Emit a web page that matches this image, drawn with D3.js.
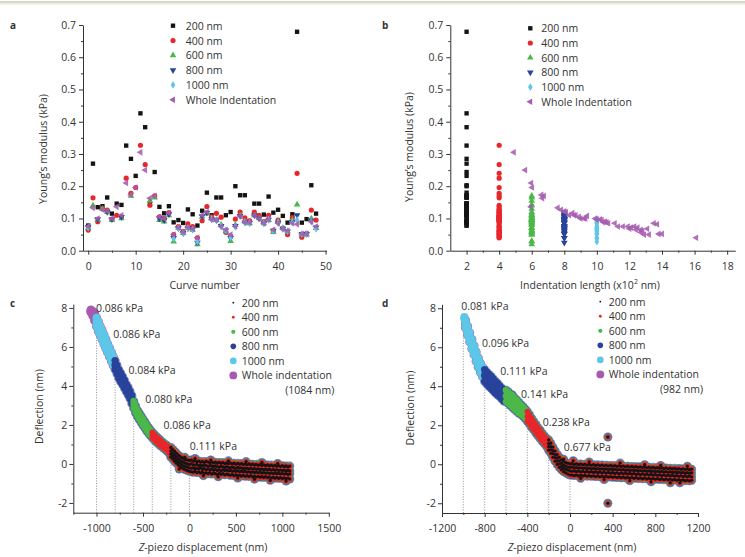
<!DOCTYPE html>
<html><head><meta charset="utf-8">
<script src="https://cdn.jsdelivr.net/npm/d3@7"></script>
<style>body{margin:0;background:#fff}svg{display:block;font-family:"Open Sans",sans-serif}</style>
</head><body><svg id="chart" width="745" height="557"></svg>
<script>
// ---------------- DATA ----------------
const curves = [0,1,2,3,4,5,6,7,8,9,10,11,12,13,14,15,16,17,18,19,20,21,22,23,24,25,26,27,28,29,30,31,32,33,34,35,36,37,38,39,40,41,42,43,44,45,46,47,48];
const seriesNames = ["200 nm","400 nm","600 nm","800 nm","1000 nm","Whole Indentation"];
const e200 = [0.078,0.270,0.135,0.138,0.165,0.115,0.146,0.142,0.326,0.285,0.232,0.426,0.383,0.147,0.244,0.136,0.116,0.138,0.088,0.095,0.086,0.128,0.113,0.078,0.124,0.180,0.110,0.165,0.165,0.110,0.120,0.200,0.172,0.172,0.092,0.146,0.146,0.112,0.168,0.118,0.127,0.108,0.087,0.113,0.679,0.087,0.098,0.203,0.115];
const e400 = [0.064,0.164,0.090,0.130,0.126,0.097,0.110,0.105,0.225,0.178,0.196,0.327,0.267,0.141,0.170,0.105,0.100,0.118,0.050,0.075,0.060,0.083,0.075,0.040,0.093,0.137,0.105,0.116,0.104,0.057,0.045,0.098,0.120,0.102,0.093,0.120,0.110,0.090,0.110,0.062,0.095,0.070,0.050,0.103,0.240,0.042,0.054,0.126,0.095];
const e600 = [0.07,0.14,0.095,0.13,0.12,0.095,null,0.10,null,0.17,null,null,null,0.155,0.165,0.095,0.09,0.11,0.028,0.07,0.055,0.07,0.065,0.02,0.105,0.115,0.1,0.095,0.08,0.06,0.03,0.08,0.11,0.09,0.085,0.11,0.1,0.085,0.095,0.058,0.09,0.07,0.06,0.095,0.143,0.05,0.05,0.1,0.07];
const e800 = [0.073,null,0.098,null,0.12,0.098,null,0.105,null,null,null,null,null,null,null,0.1,0.095,0.113,0.04,0.07,0.055,0.07,0.066,0.025,0.107,0.118,0.098,0.095,0.077,0.063,0.04,0.077,0.108,0.088,0.086,0.11,0.1,0.085,0.096,0.062,0.087,0.068,0.06,0.09,0.11,0.052,0.052,0.093,0.072];
const e1000 = [0.072,null,null,null,null,null,null,null,null,null,null,null,null,null,null,null,null,null,0.038,0.07,0.055,0.07,0.066,0.028,null,null,0.097,0.095,0.075,0.063,0.04,0.075,null,0.088,0.087,null,null,0.085,0.096,0.062,0.086,0.068,0.06,0.088,0.095,0.052,0.052,0.09,0.068];
const eWhole = [0.075,0.133,0.100,0.127,0.122,0.100,0.136,0.110,0.210,0.173,0.196,0.305,0.250,0.163,0.170,0.105,0.100,0.117,0.050,0.072,0.057,0.072,0.068,0.040,0.110,0.120,0.097,0.095,0.075,0.065,0.050,0.075,0.108,0.088,0.088,0.110,0.100,0.085,0.097,0.065,0.085,0.068,0.062,0.085,0.082,0.052,0.052,0.090,0.075];
// whole indentation length, x10^2 nm
const wholeLen = [11.6,7.6,9.0,7.8,8.0,9.3,5.95,8.3,5.97,6.6,6.02,4.9,5.6,6.65,6.75,8.9,9.9,8.5,12.9,12.1,12.7,12.5,12.0,16.1,8.7,8.1,10.2,10.3,11.3,12.4,13.2,11.9,9.4,10.6,10.4,8.6,9.2,11.1,10.0,12.7,10.7,13.1,12.8,13.5,13.7,13.8,14.0,10.5,12.3];
const fixedLen = [2,4,6,8,10];
const yTicksE = [0,0.1,0.2,0.3,0.4,0.5,0.6,0.7];
const xTicksA = [0,10,20,30,40,50];
const xTicksB = [2,4,6,8,10,12,14,16,18];

// force curves: [z-piezo (nm), deflection values (nm)...]
const curveC = [
[-1060,7.9,7.84,7.78],[-1040,7.82,7.7,7.6],[-1020,7.72,7.52,7.35],[-1000,7.5,7.28,7.05],[-980,7.3,7.02,6.8],[-960,7.05,6.82,6.6],[-940,6.85,6.62,6.38],[-920,6.62,6.38,6.15],[-900,6.4,6.16,5.92],[-880,6.15,5.92,5.72],[-860,5.95,5.7,5.5],[-840,5.72,5.5,5.28],[-820,5.5,5.28,5.05],[-800,5.3,5.08,4.85],[-780,5.05,4.84,4.62],[-760,4.82,4.6,4.4],[-740,4.65,4.45,4.22],[-720,4.48,4.28,4.08],[-700,4.3,4.1,3.9],[-680,4.08,3.9,3.72],[-660,3.92,3.74,3.55],[-640,3.72,3.54,3.36],[-620,3.5,3.3,3.1],[-600,3.22,3.04,2.86],[-580,2.98,2.8,2.62],[-560,2.76,2.6,2.44],[-540,2.6,2.44,2.28],[-520,2.45,2.3,2.14],[-500,2.3,2.14,1.98],[-480,2.15,2.0,1.85],[-460,2.0,1.86,1.7],[-440,1.86,1.72,1.58],[-420,1.74,1.6,1.46],[-400,1.62,1.48,1.34],[-380,1.52,1.38,1.24],[-360,1.42,1.28,1.14],[-340,1.33,1.2,1.06],[-320,1.24,1.1,0.97],[-300,1.16,1.02,0.9],[-280,1.08,0.95,0.82],[-260,1.0,0.87,0.74],[-240,0.93,0.8,0.66],[-220,0.84,0.7,0.56],
[-200,0.85,0.66,0.5,0.35],[-180,0.74,0.56,0.4,0.25],[-160,0.64,0.46,0.3,0.14],[-140,0.55,0.36,0.2,0.04],[-120,0.45,0.26,0.1,-0.06],[-100,0.38,0.2,0.03,-0.14],[-80,0.32,0.12,-0.04,-0.2],[-60,0.26,0.08,-0.1,-0.26],[-40,0.22,0.03,-0.13,-0.3],[-20,0.2,0.0,-0.16,-0.34],[0,0.18,-0.02,-0.2,-0.38],
[20,0.2,0.0,-0.22,-0.4],[40,0.14,-0.04,-0.2,-0.42],[60,0.16,-0.06,-0.24,-0.38],[80,0.12,-0.02,-0.22,-0.44],[100,0.15,-0.08,-0.25,-0.4],[120,0.1,-0.05,-0.2,-0.46],[140,0.12,-0.1,-0.28,-0.42],[160,0.08,-0.06,-0.24,-0.48],[180,0.13,-0.08,-0.3,-0.45],[200,0.1,-0.12,-0.26,-0.5],[220,0.06,-0.09,-0.3,-0.44],[240,0.11,-0.1,-0.27,-0.52],[260,0.05,-0.14,-0.32,-0.47],[280,0.09,-0.1,-0.28,-0.5],[300,0.04,-0.13,-0.33,-0.55],[320,0.08,-0.16,-0.3,-0.48],[340,0.03,-0.12,-0.35,-0.53],[360,0.07,-0.15,-0.3,-0.5],[380,0.02,-0.18,-0.34,-0.56],[400,0.06,-0.14,-0.32,-0.52],[420,0.01,-0.17,-0.36,-0.55],[440,0.05,-0.2,-0.33,-0.58],[460,0.0,-0.16,-0.37,-0.53],[480,0.04,-0.19,-0.35,-0.6],[500,-0.01,-0.22,-0.38,-0.56],[520,0.03,-0.18,-0.36,-0.6],[540,-0.02,-0.21,-0.4,-0.57],[560,0.02,-0.2,-0.37,-0.62],[580,-0.03,-0.24,-0.41,-0.58],[600,0.01,-0.21,-0.38,-0.63],[620,-0.04,-0.23,-0.42,-0.6],[640,0.0,-0.25,-0.4,-0.64],[660,-0.05,-0.22,-0.43,-0.6],[680,-0.01,-0.26,-0.41,-0.66],[700,-0.06,-0.24,-0.44,-0.62],[720,-0.02,-0.27,-0.42,-0.67],[740,-0.07,-0.25,-0.45,-0.63],[760,-0.03,-0.28,-0.43,-0.68],[780,-0.08,-0.26,-0.46,-0.64],[800,-0.04,-0.29,-0.44,-0.69],[820,-0.09,-0.27,-0.47,-0.65],[840,-0.05,-0.3,-0.45,-0.7],[860,-0.1,-0.28,-0.48,-0.66],[880,-0.06,-0.31,-0.46,-0.72],[900,-0.11,-0.29,-0.49,-0.68],[920,-0.07,-0.32,-0.47,-0.73],[940,-0.12,-0.3,-0.5,-0.69],[960,-0.08,-0.33,-0.48,-0.74],[980,-0.13,-0.31,-0.51,-0.7],[1000,-0.09,-0.34,-0.49,-0.75],[1020,-0.14,-0.32,-0.52,-0.71],[1040,-0.1,-0.35,-0.5,-0.76],[1060,-0.15,-0.33,-0.53,-0.72],[1080,-0.11,-0.36,-0.51,-0.77],
[-110,-0.26],[-50,0.34],[60,0.28],[150,-0.6],[230,0.2],[310,-0.66],[420,0.16],[520,-0.72],[610,0.12],[700,-0.78],[780,0.08],[870,-0.84],[950,0.02],[1040,-0.88]
];
const curveD = [
[-990,7.55,7.5,7.45],[-980,7.4,7.2,7.0],[-960,7.08,6.85,6.62],[-940,6.74,6.5,6.28],[-920,6.4,6.15,5.92],[-900,6.08,5.85,5.62],[-880,5.76,5.52,5.28],[-860,5.45,5.2,4.98],[-840,5.18,4.95,4.72],[-820,4.98,4.75,4.5],[-800,4.85,4.55,4.25],[-780,4.72,4.42,4.12],[-760,4.6,4.3,4.0],[-740,4.5,4.2,3.9],[-720,4.38,4.06,3.78],[-700,4.25,3.95,3.66],[-680,4.15,3.85,3.56],[-660,4.02,3.74,3.48],[-640,3.9,3.62,3.36],[-620,3.78,3.5,3.24],[-600,3.8,3.5,3.2],[-580,3.72,3.42,3.12],[-560,3.6,3.3,3.02],[-540,3.55,3.2,2.92],[-520,3.4,3.1,2.82],[-500,3.3,3.0,2.72],[-480,3.18,2.9,2.62],[-460,3.05,2.8,2.55],[-440,2.95,2.7,2.46],[-420,2.82,2.58,2.34],[-400,2.7,2.45,2.2],[-380,2.54,2.3,2.06],[-360,2.36,2.12,1.9],[-340,2.2,1.98,1.76],[-320,2.04,1.82,1.6],[-300,1.88,1.67,1.46],[-280,1.74,1.53,1.32],[-260,1.58,1.38,1.18],[-240,1.45,1.25,1.05],[-220,1.32,1.12,0.92],
[-200,1.25,1.06,0.9,0.72],[-180,1.08,0.9,0.74,0.56],[-160,0.88,0.7,0.54,0.36],[-140,0.68,0.5,0.34,0.16],[-120,0.5,0.33,0.17,-0.01],[-100,0.36,0.18,0.02,-0.16],[-80,0.22,0.05,-0.11,-0.28],[-60,0.14,-0.04,-0.2,-0.38],[-40,0.08,-0.1,-0.26,-0.44],[-20,0.05,-0.14,-0.3,-0.5],[0,0.02,-0.16,-0.34,-0.55],
[20,0.03,-0.15,-0.36,-0.55],[40,-0.01,-0.19,-0.34,-0.58],[60,0.02,-0.17,-0.38,-0.55],[80,-0.02,-0.2,-0.35,-0.6],[100,0.01,-0.18,-0.39,-0.56],[120,-0.03,-0.21,-0.36,-0.6],[140,0.0,-0.19,-0.4,-0.57],[160,-0.04,-0.22,-0.37,-0.61],[180,-0.01,-0.2,-0.41,-0.58],[200,-0.05,-0.23,-0.38,-0.62],[220,-0.02,-0.21,-0.42,-0.59],[240,-0.06,-0.24,-0.39,-0.63],[260,-0.03,-0.22,-0.43,-0.6],[280,-0.07,-0.25,-0.4,-0.64],[300,-0.04,-0.23,-0.44,-0.61],[320,-0.08,-0.26,-0.41,-0.65],[340,-0.05,-0.24,-0.45,-0.62],[360,-0.09,-0.27,-0.42,-0.66],[380,-0.06,-0.25,-0.46,-0.63],[400,-0.1,-0.28,-0.43,-0.67],[420,-0.07,-0.26,-0.47,-0.64],[440,-0.11,-0.29,-0.44,-0.68],[460,-0.08,-0.27,-0.48,-0.65],[480,-0.12,-0.3,-0.45,-0.69],[500,-0.09,-0.28,-0.49,-0.66],[520,-0.13,-0.31,-0.46,-0.7],[540,-0.1,-0.29,-0.5,-0.67],[560,-0.14,-0.32,-0.47,-0.71],[580,-0.11,-0.3,-0.51,-0.68],[600,-0.15,-0.33,-0.48,-0.72],[620,-0.12,-0.31,-0.52,-0.69],[640,-0.16,-0.34,-0.49,-0.73],[660,-0.13,-0.32,-0.53,-0.7],[680,-0.17,-0.35,-0.5,-0.74],[700,-0.14,-0.33,-0.54,-0.71],[720,-0.18,-0.36,-0.51,-0.75],[740,-0.15,-0.34,-0.55,-0.72],[760,-0.19,-0.37,-0.52,-0.76],[780,-0.16,-0.35,-0.56,-0.73],[800,-0.2,-0.38,-0.53,-0.77],[820,-0.17,-0.36,-0.57,-0.74],[840,-0.21,-0.39,-0.54,-0.78],[860,-0.18,-0.37,-0.58,-0.75],[880,-0.22,-0.4,-0.55,-0.79],[900,-0.19,-0.38,-0.59,-0.76],[920,-0.23,-0.41,-0.56,-0.8],[940,-0.2,-0.39,-0.6,-0.77],[960,-0.24,-0.42,-0.57,-0.81],[980,-0.21,-0.4,-0.61,-0.78],[1000,-0.25,-0.43,-0.58,-0.82],[1020,-0.22,-0.41,-0.62,-0.79],[1040,-0.26,-0.44,-0.59,-0.83],[1060,-0.23,-0.42,-0.63,-0.8],[1080,-0.27,-0.45,-0.6,-0.84],[1100,-0.24,-0.43,-0.64,-0.81],[1120,-0.28,-0.46,-0.61,-0.85],[1140,-0.25,-0.44,-0.65,-0.82],
[-60,0.26],[30,0.18],[100,-0.72],[180,0.12],[320,-0.78],[470,0.06],[560,-0.84],[700,-0.02],[760,-0.9],[850,-0.06],[940,-0.95],[1030,-0.95],[1100,-0.1],
[355,1.4],[355,-2.0]
];
// segment start (nm) for series 200,400,600,800,1000,whole
const cStart = [-200,-400,-600,-800,-1000,-1084];
const dStart = [-200,-400,-600,-800,-1000,-982];
const cDrop = [-1000,-800,-600,-400,-200,0];
const cDropTop = [7.3,5.1,3.05,1.48,0.6,-0.07];
const dDrop = [-1000,-800,-600,-400,-200,0];
const dDropTop = [7.3,4.55,3.45,2.45,0.98,-0.25];
const cLabels = ["0.086 kPa","0.086 kPa","0.084 kPa","0.080 kPa","0.086 kPa","0.111 kPa"];
const cLabelAt = [[-1007,8.0],[-820,6.68],[-656,4.8],[-476,3.33],[-278,2.0],[4,0.9]];
const dLabels = ["0.081 kPa","0.096 kPa","0.111 kPa","0.141 kPa","0.238 kPa","0.677 kPa"];
const dLabelAt = [[-1019,8.14],[-825,6.2],[-653,4.77],[-459,3.6],[-256,2.15],[-59,0.87]];
const curveNames = ["200 nm","400 nm","600 nm","800 nm","1000 nm","Whole indentation"];
const yTicksF = [-2,0,2,4,6,8];
const xTicksC = [-1000,-500,0,500,1000,1500];
const xTicksD = [-1200,-800,-400,0,400,800,1200];

// ---------------- STYLE ----------------
const COL = ["#141414","#e8262b","#4cb848","#29429a","#5dc7e8","#a65bb1"];
const TXT = "#333";
const svg = d3.select("#chart");
svg.append("rect").attr("x",0).attr("y",1).attr("width",745).attr("height",2.5).attr("fill","#d8d8cc");
svg.append("rect").attr("x",0).attr("y",3.5).attr("width",745).attr("height",1.5).attr("fill","#f4f4e6");

const symSpec = [
  {type:d3.symbolSquare, rot:0, size:19},
  {type:d3.symbolCircle, rot:0, size:21},
  {type:d3.symbolTriangle, rot:0, size:19},
  {type:d3.symbolTriangle, rot:180, size:19},
  {type:d3.symbolDiamond, rot:0, size:18},
  {type:d3.symbolTriangle, rot:-90, size:19}
];
const symPath = i => d3.symbol().type(symSpec[i].type).size(symSpec[i].size)();

function styleAxis(g){
  g.selectAll(".domain").attr("stroke",TXT).attr("stroke-width",1);
  g.selectAll(".tick line").attr("stroke",TXT).attr("stroke-width",1);
  g.selectAll("text").attr("fill",TXT).attr("font-size","10.5px").attr("font-family","'Open Sans',sans-serif");
  g.attr("font-family",null).attr("font-size",null);
}
const fmt = d => String(d);
function drawAxes(x, y, o){
  const y0 = y.range()[0], x0 = x.range()[0];
  const gx = svg.append("g").attr("transform",`translate(0,${y0})`)
    .call(d3.axisBottom(x).tickValues(o.xMinor).tickSize(2).tickSizeOuter(0).tickFormat(""));
  styleAxis(gx);
  const gx2 = svg.append("g").attr("transform",`translate(0,${y0})`)
    .call(d3.axisBottom(x).tickValues(o.xMajor).tickSize(4).tickSizeOuter(0).tickPadding(8).tickFormat(o.xFmt||fmt));
  styleAxis(gx2); gx2.select(".domain").remove();
  const gy = svg.append("g").attr("transform",`translate(${x0},0)`)
    .call(d3.axisLeft(y).tickValues(o.yMinor).tickSize(2).tickSizeOuter(0).tickFormat(""));
  styleAxis(gy);
  const gy2 = svg.append("g").attr("transform",`translate(${x0},0)`)
    .call(d3.axisLeft(y).tickValues(o.yMajor).tickSize(4).tickSizeOuter(0).tickPadding(o.yPad||3).tickFormat(o.yFmt||fmt));
  styleAxis(gy2); gy2.select(".domain").remove();
}
function text(x,y,s,o={}){
  return svg.append("text").attr("x",x).attr("y",y).text(s)
    .attr("fill",TXT).attr("font-size",o.size||"10.5px")
    .attr("text-anchor",o.anchor||"start").attr("dominant-baseline","central")
    .attr("font-weight",o.weight||null);
}
function ytitle(x,y,s){
  svg.append("text").attr("transform",`translate(${x},${y}) rotate(-90)`).text(s)
    .attr("fill",TXT).attr("font-size","10.5px").attr("text-anchor","middle").attr("dominant-baseline","central");
}
function zTitle(x,y){
  const t = svg.append("text").attr("x",x).attr("y",y).attr("fill",TXT).attr("font-size","10.5px")
    .attr("text-anchor","middle").attr("dominant-baseline","central");
  t.append("tspan").attr("font-style","italic").text("Z");
  t.append("tspan").text("-piezo displacement (nm)");
}

// ---------------- PANEL A ----------------
const series = [e200,e400,e600,e800,e1000,eWhole];
const xA = d3.scaleLinear().domain([-1.1,50.2]).range([83,326.5]);
const yE = d3.scaleLinear().domain([0,0.7]).range([250.7,25]);
drawAxes(xA, yE, {xMajor:xTicksA, xMinor:[5,15,25,35,45], yMajor:yTicksE,
  yMinor:[0.05,0.15,0.25,0.35,0.45,0.55,0.65], yFmt:d3.format(".1f")});
series.forEach((arr,i)=>{
  svg.append("g").selectAll("path").data(curves.filter(n=>arr[n]!=null)).join("path")
    .attr("d",symPath(i)).attr("fill",COL[i]).attr("fill-opacity",i===5?0.88:1)
    .attr("transform",n=>`translate(${xA(n)},${yE(arr[n])}) rotate(${symSpec[i].rot})`);
});
text(10,25,"a",{weight:"bold",size:"10px"});
ytitle(42.7,149,"Young’s modulus (kPa)");
text(204.7,284.7,"Curve number",{anchor:"middle"});
seriesNames.forEach((s,i)=>{
  const yy = 25.7+14.8*i;
  svg.append("path").attr("d",symPath(i)).attr("fill",COL[i]).attr("transform",`translate(173,${yy}) rotate(${symSpec[i].rot})`);
  text(185.7,yy,s);
});

// ---------------- PANEL B ----------------
const xB = d3.scaleLinear().domain([1,18.5]).range([450.3,735.3]);
drawAxes(xB, yE, {xMajor:xTicksB, xMinor:[3,5,7,9,11,13,15,17], yMajor:yTicksE,
  yMinor:[0.05,0.15,0.25,0.35,0.45,0.55,0.65], yFmt:d3.format(".1f")});
series.forEach((arr,i)=>{
  svg.append("g").selectAll("path").data(curves.filter(n=>arr[n]!=null)).join("path")
    .attr("d",symPath(i)).attr("fill",COL[i]).attr("fill-opacity",i===5?0.88:1)
    .attr("transform",n=>`translate(${xB(i<5?fixedLen[i]:wholeLen[n])},${yE(arr[n])}) rotate(${symSpec[i].rot})`);
});
text(382,25,"b",{weight:"bold",size:"10px"});
ytitle(408.7,147,"Young’s modulus (kPa)");
{
  const t = svg.append("text").attr("x",590).attr("y",284.7).attr("fill",TXT).attr("font-size","10.5px")
    .attr("text-anchor","middle").attr("dominant-baseline","central");
  t.append("tspan").text("Indentation length (x10");
  t.append("tspan").attr("font-size","7px").attr("dy",-4).text("2");
  t.append("tspan").attr("dy",4).text(" nm)");
}
seriesNames.forEach((s,i)=>{
  const yy = 28.3+14.7*i;
  svg.append("path").attr("d",symPath(i)).attr("fill",COL[i]).attr("transform",`translate(530.3,${yy}) rotate(${symSpec[i].rot})`);
  text(541.3,yy,s);
});

// ---------------- PANELS C, D ----------------
const radii = [1.6,2.8,3.3,3.7,4.0,4.5];
const legR = [0.9,1.4,2.1,2.8,3.3,3.9];
function forcePanel(o){
  const x = d3.scaleLinear().domain(o.xDom).range(o.xRange);
  const y = d3.scaleLinear().domain([-2.5,8.2]).range(o.yRange);
  drawAxes(x, y, {xMajor:o.xTicks, xMinor:o.xMinor, yMajor:yTicksF, yMinor:[-1,1,3,5,7], yPad:2});
  o.drop.forEach((d,i)=>{
    svg.append("line").attr("x1",x(d)).attr("x2",x(d)).attr("y1",y(-2.5)).attr("y2",y(o.dropTop[i]))
      .attr("stroke","#777").attr("stroke-width",0.8).attr("stroke-dasharray","1,1.6");
  });
  const pts = [];
  o.data.forEach(r=>{ for(let k=1;k<r.length;k++) pts.push([r[0],r[k]]); });
  for(let i=5;i>=0;i--){
    svg.append("g").selectAll("circle").data(pts.filter(p=>p[0]>=o.start[i])).join("circle")
      .attr("cx",p=>x(p[0])).attr("cy",p=>y(p[1])).attr("r",radii[i]).attr("fill",COL[i]);
  }
  o.labels.forEach((s,i)=> text(x(o.labelAt[i][0]), y(o.labelAt[i][1]), s));
  curveNames.forEach((s,i)=>{
    const yy = o.legY + 14.55*i;
    svg.append("circle").attr("cx",o.legX).attr("cy",yy).attr("r",legR[i]).attr("fill",COL[i]);
    text(o.legX+8.4, yy, s);
  });
  text(o.extraX, o.legY+14.55*6, o.extra, {anchor:"end"});
}
forcePanel({xDom:[-1250,1500], xRange:[73.3,328.8], yRange:[512.7,304.05], xTicks:xTicksC,
  xMinor:[-1250,-750,-250,250,750,1250], drop:cDrop, dropTop:cDropTop, data:curveC, start:cStart,
  labels:cLabels, labelAt:cLabelAt, legX:233.3, legY:302.7, extra:"(1084 nm)", extraX:334.3});
forcePanel({xDom:[-1200,1200], xRange:[442,698], yRange:[513,304.35], xTicks:xTicksD,
  xMinor:[-1000,-600,-200,200,600,1000], drop:dDrop, dropTop:dDropTop, data:curveD, start:dStart,
  labels:dLabels, labelAt:dLabelAt, legX:600.3, legY:301.7, extra:"(982 nm)", extraX:703});
text(10,303,"c",{weight:"bold",size:"10px"});
text(382,303,"d",{weight:"bold",size:"10px"});
ytitle(39.3,406.7,"Deflection (nm)");
ytitle(410.3,408,"Deflection (nm)");
zTitle(203,546.7);
zTitle(572,546.7);
</script></body></html>
